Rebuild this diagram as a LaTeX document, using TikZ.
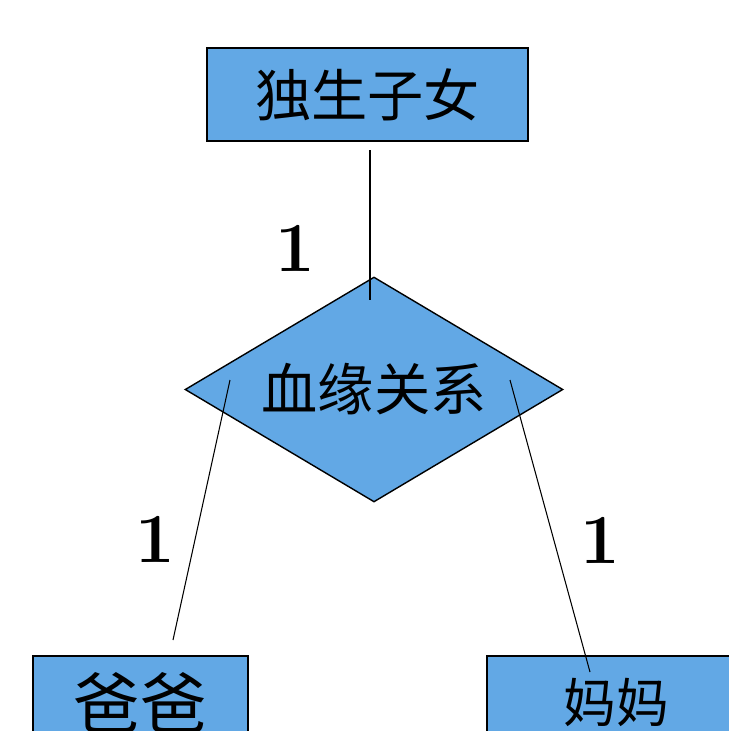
\documentclass[tikz,border=0pt]{standalone}
\usepackage{fontspec}
\newfontfamily\cjk{Noto Sans CJK SC}
\usetikzlibrary{shapes.geometric, positioning}
\definecolor{erblue}{HTML}{62A8E5}

\begin{document}
\begin{tikzpicture}[
  x=0.02cm, y=-0.02cm,
  entity/.style={rectangle, draw, thick, fill=erblue, minimum height=1.86cm, align=center, font=\cjk},
  rel/.style={diamond, draw, thick, fill=erblue, aspect=1.68, minimum width=7.56cm, minimum height=4.5cm, inner sep=0pt, font=\cjk\fontsize{32}{36}\selectfont},
  card/.style={font=\fontsize{40}{44}\selectfont\bfseries},
  link/.style={semithick}
]
\useasboundingbox (0,0) rectangle (729,731);
\clip (0,0) rectangle (729,731);

\node (child) [entity, minimum width=6.42cm, font=\cjk\fontsize{32}{36}\selectfont] at (367.5,94.5) {独生子女};
\node (blood) [rel] at (374,389.5) {血缘关系};
\node (dad) [entity, minimum width=4.3cm, font=\cjk\fontsize{38}{42}\selectfont] at (140.5,702.5) {爸爸};
\node (mom) [entity, minimum width=5.18cm, font=\cjk\fontsize{30}{34}\selectfont] at (616.5,702.5) {妈妈};

\coordinate (childend) at (370,150);
\coordinate (bloodtop) at (370,300);
\coordinate (bloodleft) at (230,380);
\coordinate (dadend) at (173,640);
\coordinate (bloodright) at (510,380);
\coordinate (momend) at (590,672);

\draw [link] (childend) -- (bloodtop);
\draw [link] (bloodleft) -- (dadend);
\draw [link] (bloodright) -- (momend);

\node (cchild) [card] at (295,248) {1};
\node (cdad) [card] at (155,539) {1};
\node (cmom) [card] at (600,540) {1};

\end{tikzpicture}
\end{document}
